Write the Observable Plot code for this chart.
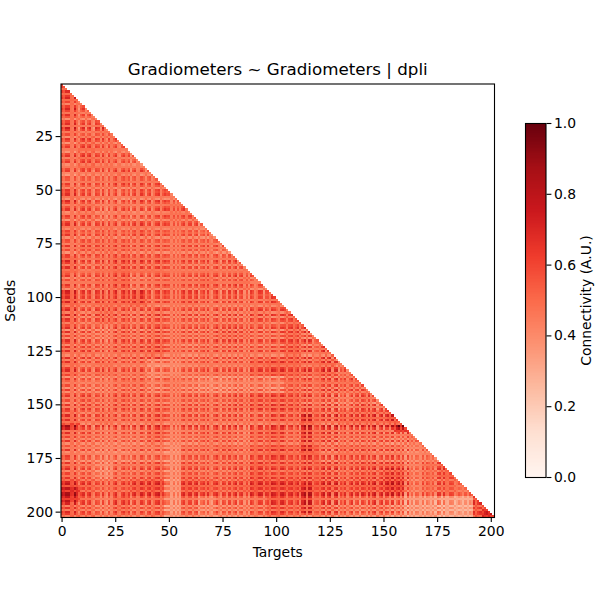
<!DOCTYPE html>
<html>
<head>
<meta charset="utf-8">
<script src="https://cdn.jsdelivr.net/npm/d3@7"></script>
<script src="https://cdn.jsdelivr.net/npm/@observablehq/plot@0.6"></script>
<style>
html,body{margin:0;padding:0;background:#fff}
#fig{position:relative;width:600px;height:600px;overflow:hidden}
#fig svg{position:absolute;left:0;top:0;background:transparent}
#fig svg image{image-rendering:pixelated}
</style>
</head>
<body>
<div id="fig"></div>
<script>
// Estimates: mean connectivity of each 8x8 block of the triangle.
const blockSize = 8;
const blocks = [
[.52],
[.50,.47],
[.49,.47,.49],
[.47,.51,.49,.47],
[.47,.51,.49,.47,.45],
[.45,.47,.47,.49,.47,.47],
[.49,.47,.47,.45,.47,.47,.46],
[.47,.49,.45,.47,.45,.47,.49,.49],
[.49,.47,.49,.47,.49,.47,.47,.47,.45],
[.47,.49,.49,.49,.47,.47,.46,.47,.47,.45],
[.51,.47,.49,.51,.49,.49,.47,.47,.47,.47,.47],
[.47,.47,.49,.51,.45,.47,.47,.47,.49,.47,.49,.45],
[.53,.49,.51,.51,.53,.47,.47,.49,.47,.47,.47,.47,.49],
[.51,.47,.51,.49,.47,.49,.46,.47,.47,.47,.47,.49,.47,.51],
[.49,.47,.45,.49,.47,.49,.46,.47,.47,.49,.49,.47,.47,.52,.47],
[.49,.49,.47,.49,.49,.51,.46,.45,.47,.47,.47,.47,.47,.52,.47,.49],
[.51,.47,.49,.47,.47,.41,.42,.45,.47,.47,.47,.51,.53,.52,.49,.52,.47],
[.47,.45,.45,.47,.47,.43,.45,.43,.41,.41,.43,.43,.41,.49,.47,.49,.49,.49],
[.47,.49,.47,.49,.47,.47,.45,.47,.47,.47,.49,.51,.51,.51,.47,.47,.45,.49,.45],
[.51,.47,.49,.47,.47,.49,.45,.47,.47,.47,.47,.47,.49,.49,.51,.49,.51,.52,.52,.55],
[.49,.47,.45,.45,.45,.49,.43,.45,.47,.47,.45,.49,.51,.47,.49,.49,.47,.47,.47,.45,.47],
[.47,.45,.43,.43,.45,.45,.40,.47,.47,.49,.47,.51,.53,.51,.53,.47,.49,.49,.47,.47,.43,.45],
[.49,.47,.41,.47,.47,.49,.40,.49,.47,.47,.49,.53,.51,.51,.51,.51,.49,.51,.51,.51,.44,.49,.53],
[.59,.53,.49,.51,.55,.57,.39,.55,.53,.51,.53,.57,.57,.57,.55,.55,.53,.55,.55,.57,.44,.49,.51,.47],
[.53,.49,.45,.51,.47,.49,.37,.47,.41,.45,.45,.47,.53,.51,.49,.49,.47,.45,.47,.43,.36,.35,.33,.31,.55],
[.53,.51,.47,.49,.47,.51,.39,.47,.41,.43,.43,.47,.53,.49,.47,.47,.45,.43,.45,.41,.36,.37,.33,.33,.57,.59]
];
// Stripe strength of each seed row and target column, in hundredths, estimated from zoomed crops.
const seedStripes = [
 5,7,-4,6,-3,4,7,-3,3,-6, 4,8,3,-4,6,1,-7,4,7,-3, 10,6,-4,3,-6,7,4,-7,3,6,
 -3,-7,4,7,-4,3,6,-6,-3,4, 7,-4,-7,4,3,-3,7,3,-6,6, 4,7,-3,-7,8,4,-4,3,7,-6,
 -4,6,3,-7,4,7,-3,-6,4,1, 6,-7,4,3,-4,7,-3,4,-7,6, 3,-3,8,4,-6,6,-4,-1,3,7,
 -6,4,-3,7,3,-6,8,7,3,6, -4,7,-3,-7,4,7,-6,8,-7,6, 4,-6,3,7,-8,7,-6,4,-7,7,
 3,-7,6,-4,7,-3,-7,7,-6,6, -3,-6,4,7,-4,3,-7,6,1,-4, 4,-7,6,-6,3,7,-4,4,-7,7,
 -4,7,3,-6,7,-3,6,-4,-7,10, 6,-4,7,-3,4,-6,6,-7,3,-4, 7,-6,-3,6,4,-7,6,-4,3,7,
 -6,4,-3,6,-7,4,7,-4,3,-6, 6,7,4,-3,6,7,-7,4,-6,6, 3,-7,4,-4,-3,-1,4,7,-6,3,
 6,7
];
const targetStripes = [
 4,1,8,8,-3,-4,10,-1,-7,3, 7,-6,4,7,-4,-7,6,4,-6,7, -3,-7,6,-4,3,8,-4,-6,4,7,
 -1,6,-7,4,7,-4,-3,8,3,-7, 4,7,-6,-1,6,8,-4,3,7,4, 5,-4,4,-5,3,-4,4,7,-3,6,
 6,-6,4,7,-7,3,6,-4,7,-3, -6,4,8,-1,-7,6,4,-6,7,-4, 3,8,-7,4,6,-6,3,-7,7,4,
 -4,-1,7,6,-7,4,3,-4,8,6, 1,-3,7,8,3,-6,4,6,-4,1, 6,-7,4,10,-4,10,8,-6,1,3, -4,6,
 10,-8,6,10,-8,7,11,-8,4,-1, 7,-6,3,8,-7,4,6,-8,7,3, -6,8,-4,6,10,-7,4,8,-8,6, 7,-4,10,-7,3,8,
 -6,7,-7,10,-4,3,-6,4,3,-4, 5,-6,4,1,-4,3,-7,8,6,-6, 7,-3,-4,4,3,-6,-1,4,1,-4, 3,-3,4,1,
 6,-4,3,6,-6,1,4,-3,6,7
];
// Local features seen in the picture: [firstSeed, lastSeed, firstTarget, lastTarget, added value].
const accents = [
 [159,161,0,8,.12],[160,162,155,164,.2],[189,195,0,8,.1],[199,202,196,201,.12],
 [155,172,112,113,.08],[155,172,115,116,.08],[188,200,112,113,.1],[188,200,115,116,.1],
 [180,190,150,162,.04]
];
const xTicks = [0,25,50,75,100,125,150,175,200];
const yTicks = [25,50,75,100,125,150,175,200];
const barTicks = [0,.2,.4,.6,.8,1];
const redsStops = [0,.125,.25,.375,.5,.625,.75,.875,1];
const redsColors = ["#fff5f0","#fee0d2","#fcbba1","#fc9272","#fb6a4a","#ef3b2c","#cb181d","#a50f15","#67000d"];

const size = 202;
const values = new Array(size * size).fill(NaN);
for (let i = 0; i < size; i++) {
  const seed = i + 1;
  for (let j = 0; j <= i; j++) {
    const s = seedStripes[i], t = targetStripes[j];
    let v = blocks[Math.floor(i / blockSize)][Math.floor(j / blockSize)] + (s + t) / 200 + s * t / 500;
    for (const [a, b, c, d, e] of accents) if (seed >= a && seed <= b && j >= c && j <= d) v += e;
    values[i * size + j] = v;
  }
}
const color = {type: "linear", domain: redsStops, range: redsColors, interpolate: "rgb"};
const font = "DejaVu Sans";
const main = Plot.plot({
  width: 600, height: 600,
  marginLeft: 60.5, marginRight: 106, marginTop: 83.5, marginBottom: 83,
  style: {fontFamily: font, fontSize: "13.9px", color: "#000", background: "transparent"},
  x: {domain: [-0.5, 201.5]},
  y: {domain: [202.5, 0.5]},
  color,
  marks: [
    Plot.raster(values, {width: size, height: size, x1: -0.5, x2: 201.5, y1: 0.5, y2: 202.5, imageRendering: "pixelated"}),
    Plot.frame({stroke: "#000", strokeWidth: 1.1}),
    Plot.axisX({ticks: xTicks, tickFormat: d3.format("d"), tickSize: 4.9, tickPadding: 4, strokeWidth: 1.1, fontSize: 13.9, fill: "#000", stroke: "#000", label: "Targets", labelAnchor: "center", labelArrow: "none", labelOffset: 39}),
    Plot.axisY({ticks: yTicks, tickFormat: d3.format("d"), tickSize: 4.9, tickPadding: 3, strokeWidth: 1.1, fontSize: 13.9, fill: "#000", stroke: "#000", label: "Seeds", labelAnchor: "center", labelArrow: "none", labelOffset: 56}),
    Plot.text(["Gradiometers ~ Gradiometers | dpli"], {frameAnchor: "top", dy: -9, lineAnchor: "bottom", fontSize: 16.7, fill: "#000"})
  ]
});
const levels = d3.range(0, 256).map(k => k / 256);
const bar = Plot.plot({
  width: 600, height: 600,
  marginLeft: 525, marginRight: 54.5, marginTop: 123, marginBottom: 123,
  style: {fontFamily: font, fontSize: "13.9px", color: "#000", background: "transparent"},
  x: {domain: [0, 1], axis: null},
  y: {domain: [0, 1]},
  color,
  marks: [
    Plot.rect(levels, {x1: 0, x2: 1, y1: d => d, y2: d => d + 1 / 256, fill: d => d + 0.5 / 256, shapeRendering: "crispEdges"}),
    Plot.frame({stroke: "#000", strokeWidth: 1.1}),
    Plot.axisY({anchor: "right", ticks: barTicks, tickFormat: d3.format(".1f"), tickSize: 4.9, tickPadding: 3, strokeWidth: 1.1, fontSize: 13.9, fill: "#000", stroke: "#000", label: "Connectivity (A.U.)", labelAnchor: "center", labelArrow: "none", labelOffset: 45})
  ]
});
document.getElementById("fig").append(main, bar);
</script>
</body>
</html>
